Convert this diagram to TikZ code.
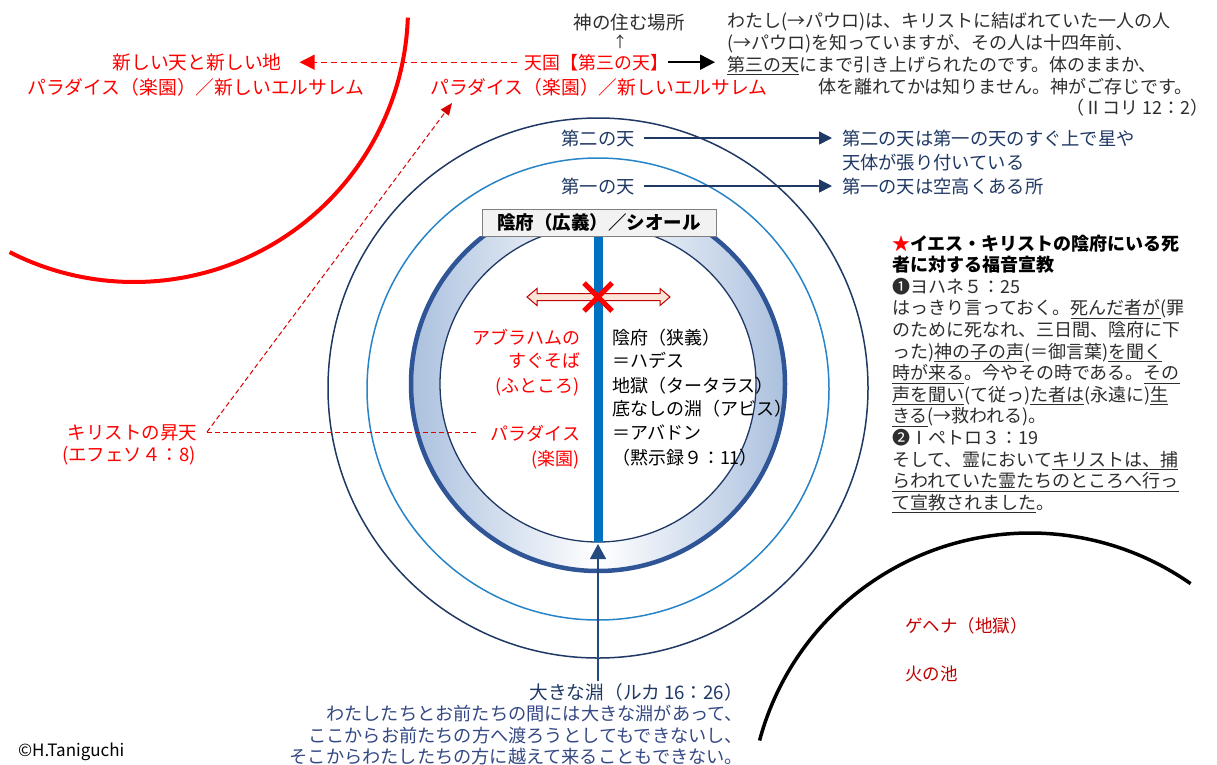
\documentclass[tikz,border=0pt]{standalone}
\usepackage{fontspec}
\setmainfont{Noto Sans CJK JP}
\usetikzlibrary{arrows.meta}

\definecolor{navy}{RGB}{31,56,100}
\definecolor{skyline}{RGB}{40,132,200}
\definecolor{ringedge}{RGB}{47,85,151}
\definecolor{ringfill}{RGB}{170,192,222}
\definecolor{gulfbar}{RGB}{0,112,192}
\definecolor{gulfarrow}{RGB}{36,72,128}
\definecolor{pred}{RGB}{255,0,0}
\definecolor{dred}{RGB}{192,0,0}
\definecolor{ink}{RGB}{45,45,45}
\definecolor{slate}{RGB}{52,72,132}
\definecolor{boxgray}{RGB}{242,242,242}
\definecolor{boxline}{RGB}{127,127,127}
\definecolor{pinkfill}{RGB}{251,229,214}

% underline drawn as a rule under the boxed text
\newcommand\ulmark[1]{{\setbox0=\hbox{#1}\leavevmode\rlap{\rule[-4pt]{\wd0}{1.1pt}}\box0}}

\begin{document}
\begin{tikzpicture}[x=1pt,y=-1pt,
  lab/.style={inner sep=0pt, outer sep=0pt},
  sz/.style={font=\fontsize{#1}{#1}\selectfont},
  redlab/.style={lab, text=pred},
  inklab/.style={lab, text=ink},
  navylab/.style={lab, text=navy},
  dashred/.style={pred, line width=1.3, dash pattern=on 6pt off 4pt},
  thindash/.style={pred!85!black, line width=1, dash pattern=on 5pt off 3pt},
  navyarrow/.style={navy, line width=1.5, -{Triangle[length=13pt,width=13pt]}}
]
\useasboundingbox (0,0) rectangle (1217,764);

% --- the new heaven (red) and Gehenna (black) rims
\draw[pred, line width=4] ([shift={(134,8)}]2:274) arc[start angle=2, end angle=117, radius=274];
\draw[black, line width=3.5] ([shift={(1030,813)}]-165:280) arc[start angle=-165, end angle=-55, radius=280];

% --- second and first heaven
\draw[navy, line width=1.5] (598,388) circle[radius=270];
\draw[skyline, line width=1.5] (598,389) circle[radius=231];

% --- the ring of Hades (runs behind the label box)
\begin{scope}
  \clip (0,236) rectangle (1217,764);
  \shade[left color=ringfill, right color=ringfill, middle color=white, even odd rule]
    (598,384) circle[radius=189] (598,384) circle[radius=158];
  \draw[ringedge, line width=4.5] (598,384) circle[radius=187];
\end{scope}
\draw[navy, line width=1.3] (598,384) circle[radius=158];

% --- the great gulf
\fill[gulfbar] (593.5,236) rectangle (602.5,542);

% --- label box
\node[draw=boxline, fill=boxgray, line width=1, minimum width=234, minimum height=27,
      inner sep=0pt, font=\fontsize{18.5}{18.5}\selectfont\bfseries] (sheol) at (599,222.5)
      {陰府（広義）／シオール};

% --- no crossing: double arrow and cross
\draw[dred, fill=pinkfill, line width=1]
  (527,297) -- (537,288.5) -- (537,293.5) -- (660,293.5) -- (660,288.5) -- (670,297)
  -- (660,305.5) -- (660,300.5) -- (537,300.5) -- (537,305.5) -- cycle;
\draw[pred, line width=5] (584,283) -- (612,311) (584,311) -- (612,283);

% --- top left
\node[redlab, sz=18.8, anchor=base] (newsky) at (197,69) {新しい天と新しい地};
\node[redlab, sz=18.8, anchor=base] (newcity) at (196,94) {パラダイス（楽園）／新しいエルサレム};

% --- third heaven
\node[inklab, sz=18.5, anchor=base] (abode) at (629,29) {神の住む場所};
\node[inklab, sz=15] (upmark) at (620,42) {↑};
\node[redlab, sz=17.9, anchor=base] (heaven) at (596.5,69) {天国【第三の天】};
\node[redlab, sz=18.8, anchor=base] (heavencity) at (599,94) {パラダイス（楽園）／新しいエルサレム};

\node[inklab, sz=18, anchor=base west] (pl1) at (727,27) {わたし(→パウロ)は、キリストに結ばれていた一人の人};
\node[inklab, sz=18, anchor=base west] (pl2) at (727,49) {(→パウロ)を知っていますが、その人は十四年前、};
\node[inklab, sz=18, anchor=base west] (pl3) at (727,71) {\ulmark{第三の天}にまで引き上げられたのです。体のままか、};
\node[inklab, sz=18, anchor=base west] (pl4) at (818,93) {体を離れてかは知りません。神がご存じです。};
\node[inklab, sz=18, anchor=base east] (pl5) at (1208,114) {（Ⅱコリ 12：2）};

\draw[dashred, -{Triangle[length=15pt,width=15pt]}, shorten <=8pt, shorten >=18pt]
  (heaven.west) -- (heaven.west -| newsky.east);
\draw[black, line width=2, -{Triangle[length=15pt,width=15pt]}, shorten >=12pt]
  (heaven.east) -- (heaven.east -| pl3.west);

% --- first and second heaven
\node[navylab, sz=18.3, anchor=base] (sky2) at (598,145) {第二の天};
\node[navylab, sz=18.3, anchor=base] (sky1) at (598,193) {第一の天};
\node[navylab, sz=18.3, anchor=base west] (sky2a) at (842,145) {第二の天は第一の天のすぐ上で星や};
\node[navylab, sz=18.3, anchor=base west] (sky2b) at (842,169) {天体が張り付いている};
\node[navylab, sz=18.3, anchor=base west] (sky1a) at (842,193) {第一の天は空高くある所};
\draw[navyarrow, shorten <=9pt, shorten >=10pt] (sky2.east) -- (sky2.east -| sky2a.west);
\draw[navyarrow, shorten <=9pt, shorten >=10pt] (sky1.east) -- (sky1.east -| sky1a.west);

% --- inside Hades
\node[redlab, sz=18, anchor=base east] (abr1) at (580,344) {アブラハムの};
\node[redlab, sz=18, anchor=base east] (abr2) at (580,367) {すぐそば};
\node[redlab, sz=18, anchor=base east] (abr3) at (580,392) {(ふところ)};
\node[redlab, sz=18, anchor=base east] (par1) at (580,440) {パラダイス};
\node[redlab, sz=18, anchor=base east] (par2) at (580,465) {(楽園)};

\node[lab, sz=18, anchor=base west] (hd1) at (612,344) {陰府（狭義）};
\node[lab, sz=18, anchor=base west] (hd2) at (612,367) {＝ハデス};
\node[lab, sz=18, anchor=base west] (hd3) at (612,392) {地獄（タータラス）};
\node[lab, sz=18, anchor=base west] (hd4) at (612,415) {底なしの淵（アビス）};
\node[lab, sz=18, anchor=base west] (hd5) at (612,439) {＝アバドン};
\node[lab, sz=18, anchor=base west] (hd6) at (612,464) {（黙示録９：11）};

% --- ascension
\node[redlab, sz=18.5, anchor=base east] (asc1) at (197,439) {キリストの昇天};
\node[redlab, sz=18.5, anchor=base east] (asc2) at (196,461) {(エフェソ４：8)};
\coordinate (ascfoot) at (207,432);
\coordinate (asctip) at (452,103);
\draw[thindash, shorten >=13pt] (ascfoot) -- (ascfoot -| par1.west);
\draw[thindash, -{Triangle[length=12pt,width=10pt]}] (ascfoot) -- (asctip);

% --- gospel to the dead
\node[lab, sz=18, anchor=base west, font=\fontsize{18}{18}\selectfont\bfseries] (rb1) at (892,250) {{\color{pred}★}イエス・キリストの陰府にいる死};
\node[lab, sz=18, anchor=base west, font=\fontsize{18}{18}\selectfont\bfseries] (rb2) at (892,271.6) {者に対する福音宣教};
\node[inklab, sz=18, anchor=base west] (rb3) at (892,293.2) {❶ヨハネ５：25};
\node[inklab, sz=18, anchor=base west] (rb4) at (892,314.8) {はっきり言っておく。\ulmark{死んだ者が}(罪};
\node[inklab, sz=18, anchor=base west] (rb5) at (892,336.4) {のために死なれ、三日間、陰府に下};
\node[inklab, sz=18, anchor=base west] (rb6) at (892,358) {った)\ulmark{神の子の声}(＝御言葉)\ulmark{を聞く}};
\node[inklab, sz=18, anchor=base west] (rb7) at (892,379.6) {\ulmark{時が来る}。今やその時である。\ulmark{その}};
\node[inklab, sz=18, anchor=base west] (rb8) at (892,401.2) {\ulmark{声を聞い}(て従っ)\ulmark{た者は}(永遠に)\ulmark{生}};
\node[inklab, sz=18, anchor=base west] (rb9) at (892,422.8) {\ulmark{きる}(→救われる)。};
\node[inklab, sz=18, anchor=base west] (rb10) at (892,444.4) {❷Ⅰペトロ３：19};
\node[inklab, sz=18, anchor=base west] (rb11) at (892,466) {そして、霊において\ulmark{キリストは、捕}};
\node[inklab, sz=18, anchor=base west] (rb12) at (892,487.6) {\ulmark{らわれていた霊たちのところへ行っ}};
\node[inklab, sz=18, anchor=base west] (rb13) at (892,509.2) {\ulmark{て宣教されました}。};

% --- Gehenna
\node[lab, text=dred, sz=17.5, anchor=base west] (geh1) at (905,632) {ゲヘナ（地獄）};
\node[lab, text=dred, sz=17.5, anchor=base west] (geh2) at (905,680) {火の池};

% --- the great gulf, Luke 16:26
\node[navylab, sz=18.7, anchor=base east] (gulf) at (743,699) {大きな淵（ルカ 16：26）};
\node[lab, text=slate, sz=18.2, anchor=base east] (gq1) at (743,720) {わたしたちとお前たちの間には大きな淵があって、};
\node[lab, text=slate, sz=18.2, anchor=base east] (gq2) at (743,742) {ここからお前たちの方へ渡ろうとしてもできないし、};
\node[lab, text=slate, sz=18.2, anchor=base east] (gq3) at (743,763) {そこからわたしたちの方に越えて来ることもできない。};
\coordinate (gulfbase) at (598,681);
\coordinate (abyssfloor) at (598,544);
\draw[gulfarrow, line width=1.5, -{Triangle[length=15pt,width=16pt]}] (gulfbase) -- (abyssfloor);

% --- credit
\node[lab, sz=17, anchor=base west] (credit) at (18,756) {©H.Taniguchi};
\end{tikzpicture}
\end{document}
